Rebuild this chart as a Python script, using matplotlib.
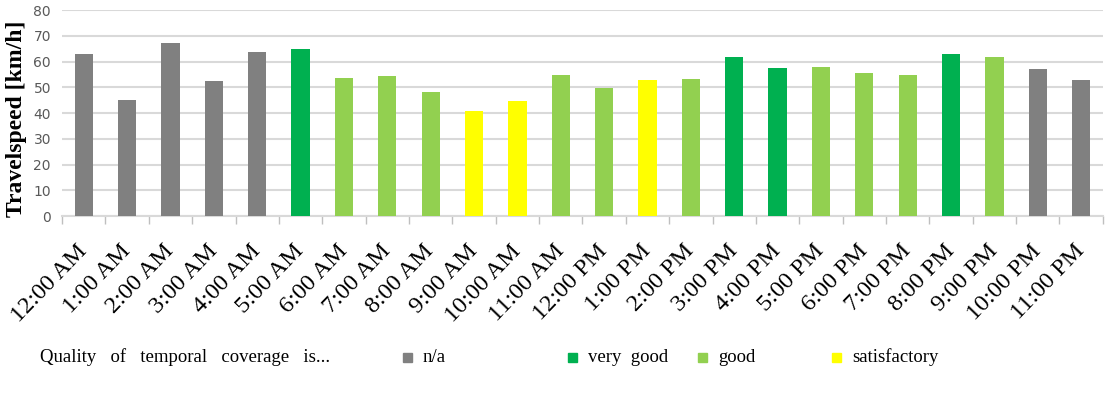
import numpy as np
import matplotlib.pyplot as plt
from matplotlib.patches import Rectangle

hours = ['12:00 AM', '1:00 AM', '2:00 AM', '3:00 AM', '4:00 AM', '5:00 AM',
         '6:00 AM', '7:00 AM', '8:00 AM', '9:00 AM', '10:00 AM', '11:00 AM',
         '12:00 PM', '1:00 PM', '2:00 PM', '3:00 PM', '4:00 PM', '5:00 PM',
         '6:00 PM', '7:00 PM', '8:00 PM', '9:00 PM', '10:00 PM', '11:00 PM']
speeds = [63, 45, 67, 52.3, 63.8, 65, 53.5, 54.4, 48.3, 40.9, 44.8, 54.8,
          49.8, 52.7, 53.1, 61.6, 57.4, 57.9, 55.7, 54.9, 62.8, 61.6, 57.1, 52.8]
quality = ['n/a', 'n/a', 'n/a', 'n/a', 'n/a', 'very good', 'good', 'good', 'good',
           'satisfactory', 'satisfactory', 'good', 'good', 'satisfactory', 'good',
           'very good', 'very good', 'good', 'good', 'good', 'very good', 'good',
           'n/a', 'n/a']
legend_labels = ['n/a', 'very good', 'good', 'satisfactory']

colors = {'n/a': '#808080', 'very good': '#00b050', 'good': '#92d050',
          'satisfactory': '#ffff00'}
serif = 'Liberation Serif'

fig = plt.figure(figsize=(11.14, 3.96), dpi=100)
ax = fig.add_axes([0.0557, 0.4545, 0.9343, 0.5202])

x = np.arange(len(hours))
ax.bar(x, speeds, width=0.42, color=[colors[q] for q in quality], zorder=3)

ax.set_xlim(-0.5, len(hours) - 0.5)
ax.set_ylim(0, 80)
ax.set_yticks(range(0, 81, 10))
ax.yaxis.grid(True, color='#d9d9d9', linewidth=1.5, zorder=0)
for s in ['top', 'right', 'left']:
    ax.spines[s].set_visible(False)
ax.spines['bottom'].set_color('#d9d9d9')
ax.spines['bottom'].set_linewidth(1.5)

ax.tick_params(axis='y', length=0, labelsize=10, labelcolor='#595959', pad=8)
ax.set_xticks(x)
ax.set_xticklabels(hours, rotation=46, ha='right', va='center',
                   rotation_mode='anchor', family=serif, fontsize=17.5)
ax.tick_params(axis='x', which='major', length=0, pad=23)
ax.set_xticks(np.arange(-0.5, len(hours), 1), minor=True)
ax.tick_params(axis='x', which='minor', length=6, color='#bfbfbf', width=1)

ax.set_ylabel('Travelspeed [km/h]', family=serif, fontweight='bold',
              fontsize=17, labelpad=6)
ax.yaxis.set_label_coords(-0.034, 0.47)

# legend row
fig.text(40 / 1114, 1 - 357 / 396, 'Quality   of   temporal   coverage   is...',
         family=serif, fontsize=13.5, va='center', ha='left')
sq_x = [403, 568, 698, 832]
for lab, px in zip(legend_labels, sq_x):
    fig.patches.append(Rectangle((px / 1114, 1 - 362 / 396), 9 / 1114, 9 / 396,
                                 transform=fig.transFigure, color=colors[lab]))
    fig.text((px + 20) / 1114, 1 - 357 / 396, lab.replace(' ', '  '),
             family=serif, fontsize=13.5, va='center', ha='left')

fig.savefig('out.png', dpi=100)
